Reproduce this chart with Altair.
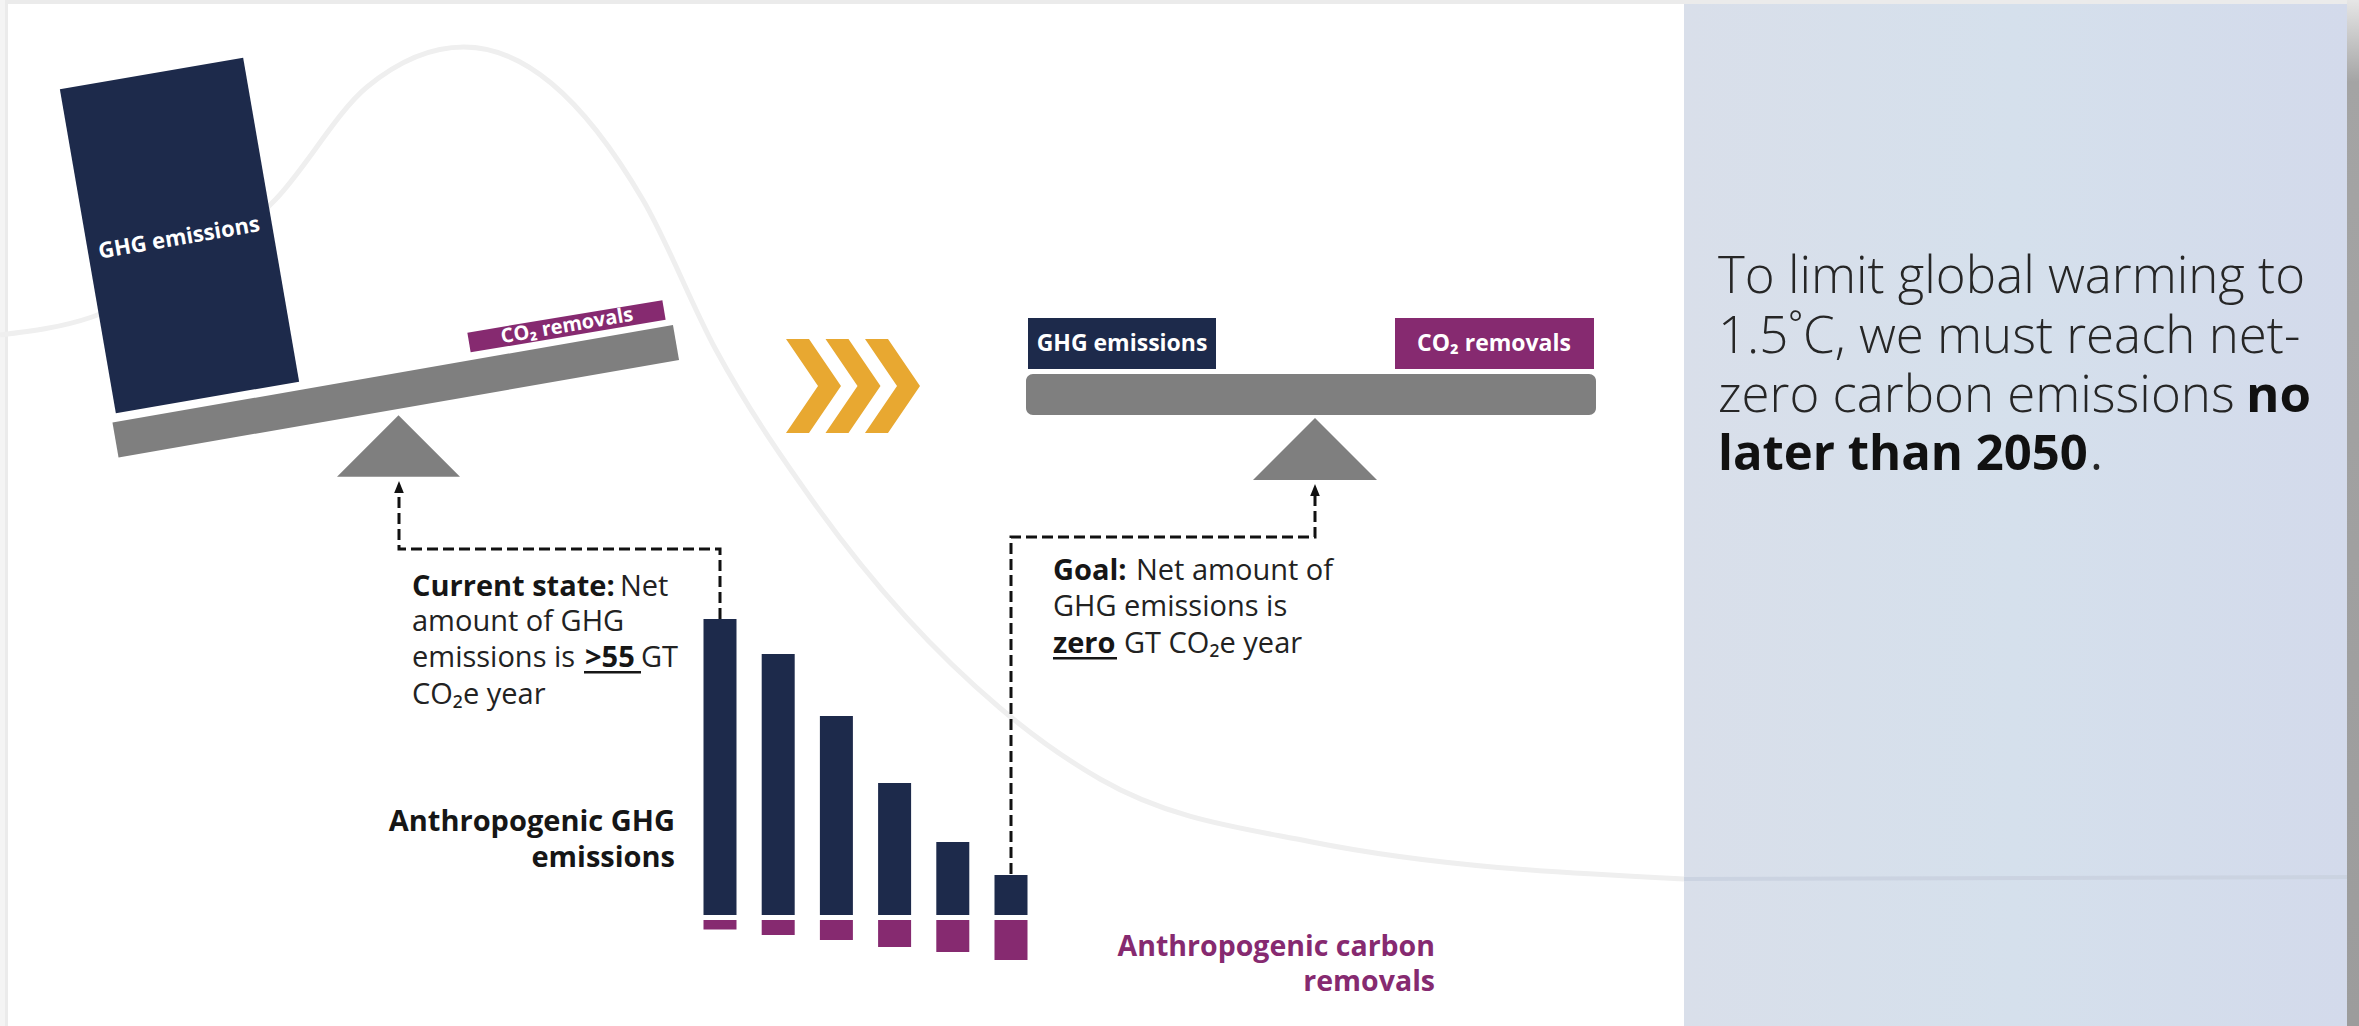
import altair as alt
import pandas as pd

W, H = 2359, 1026
FONT = "Open Sans"

NAVY = "#1D2A4B"
PURPLE = "#862A70"
GRAY = "#7F7F7F"
GOLD = "#E8A831"
INK = "#161616"

# Pathway toward net zero, Gt CO2e per year
steps = ["Today", "Step 2", "Step 3", "Step 4", "Step 5", "Net zero"]
emissions = [59.2, 52.2, 39.8, 26.4, 14.6, 8.0]
removals = [1.9, 3.0, 4.0, 5.4, 6.4, 8.0]

# Faint background trend curve (peak then decline)
curve_x = [0, 92, 275, 367, 464, 551, 643, 716, 812, 1000, 1100, 1312, 1684]
curve_y = [335, 317, 200, 87, 47, 83, 200, 350, 500, 708, 779, 842, 879]

# Text content
label_ghg = "GHG emissions"
label_co2 = "CO\u2082 removals"
current_lines = ["Current state:", "Net", "amount of GHG", "emissions is", ">55", "GT", "CO\u2082e year"]
goal_lines = ["Goal:", "Net amount of", "GHG emissions is", "zero", "GT CO\u2082e year"]
emis_title = ["Anthropogenic GHG", "emissions"]
rem_title = ["Anthropogenic carbon", "removals"]
panel_lines = ["To limit global warming to", "1.5\u02daC, we must reach net-", "zero carbon emissions", "no", "later than 2050", "."]

XS = alt.Scale(domain=[0, W], range=[0, W], nice=False, zero=False)
YS = alt.Scale(domain=[0, H], range=[0, H], nice=False, zero=False)


def X(f="x"):
    return alt.X(f"{f}:Q", scale=XS, axis=None)


def Y(f="y"):
    return alt.Y(f"{f}:Q", scale=YS, axis=None)


def rect(x0, x1, y0, y1, color, **kw):
    df = pd.DataFrame({"x": [x0], "x2": [x1], "y": [y0], "y2": [y1]})
    return alt.Chart(df).mark_rect(color=color, **kw).encode(
        x=X(), x2="x2:Q", y=Y(), y2="y2:Q")


def stroke(xs, ys, color, width, **kw):
    df = pd.DataFrame({"x": xs, "y": ys, "i": list(range(len(xs)))})
    return alt.Chart(df).mark_line(color=color, strokeWidth=width, **kw).encode(
        x=X(), y=Y(), order="i:Q")


def symbol(xs, ys, shape, size, color):
    df = pd.DataFrame({"x": xs, "y": ys})
    return alt.Chart(df).mark_point(shape=shape, size=size, filled=True, color=color,
                                    opacity=1, strokeWidth=0).encode(x=X(), y=Y())


def text(rows, **kw):
    df = pd.DataFrame(rows, columns=["x", "y", "t"])
    opts = dict(font=FONT, baseline="alphabetic", align="left")
    opts.update(kw)
    return alt.Chart(df).mark_text(**opts).encode(x=X(), y=Y(), text="t:N")


TILT = 350.2  # degrees, the unbalanced scale rises to the right

layers = []

# page frame and side panel
layers.append(rect(0, W, 0, H, "#FFFFFF"))
layers.append(rect(0, W, 0, 4, "#EBEBEB"))
layers.append(rect(0, 5, 0, H, "#F4F4F4"))
layers.append(rect(5, 8, 0, H, "#EBEBEB"))
panel_fill = alt.Gradient(gradient="linear", x1=0, x2=1, y1=0, y2=0, stops=[
    alt.GradientStop(offset=0, color="#D9DFEA"),
    alt.GradientStop(offset=0.5, color="#D5E0EC"),
    alt.GradientStop(offset=1, color="#D3DAEB")])
layers.append(rect(1684, 2347, 4, H, panel_fill))
shadow_fill = alt.Gradient(gradient="linear", x1=0, x2=0, y1=0, y2=1, stops=[
    alt.GradientStop(offset=0, color="#E6E6E6"),
    alt.GradientStop(offset=0.08, color="#A4A4A4"),
    alt.GradientStop(offset=1, color="#9C9C9C")])
layers.append(rect(2347, W, 0, H, shadow_fill))

# background curve
layers.append(stroke(curve_x, curve_y, "#EFEFEF", 5, interpolate="monotone"))
layers.append(stroke([1684, 2347], [879, 877], "#CBD3E1", 4))

# unbalanced scale: heavy emissions block, light removals block
layers.append(stroke([151.5, 207.5], [73.5, 397.5], NAVY, 186, strokeCap="butt"))
layers.append(stroke([115.5, 676], [440, 342.5], GRAY, 35.5, strokeCap="butt"))
layers.append(stroke([469, 664], [342.5, 310], PURPLE, 20, strokeCap="butt"))
layers.append(text([(179, 238, label_ghg)], angle=TILT, align="center", baseline="middle",
                   fontSize=22, fontWeight="bold", color="#FFFFFF"))
layers.append(text([(567, 326, label_co2)], angle=TILT, align="center", baseline="middle",
                   fontSize=20, fontWeight="bold", color="#FFFFFF"))

# fulcrums
tri = "M0,-0.5L1,0.5L-1,0.5Z"
layers.append(symbol([398.5], [446], tri, 123 ** 2, GRAY))
layers.append(symbol([1315], [449], tri, 124 ** 2, GRAY))

# transition chevrons
chev = "M-0.585,-1L-0.096,-1L0.585,0L-0.096,1L-0.585,1L0.096,0Z"
layers.append(symbol([813.5, 853, 892.5], [386, 386, 386], chev, 94 ** 2, GOLD))

# balanced scale
layers.append(rect(1026, 1596, 374, 415, GRAY, cornerRadius=7))
layers.append(rect(1028, 1216, 318, 369, NAVY))
layers.append(rect(1395, 1594, 318, 369, PURPLE))
layers.append(text([(1122, 344, label_ghg), (1494, 344, label_co2)], align="center",
                   baseline="middle", fontSize=23, fontWeight="bold", color="#FFFFFF"))

# dashed connectors with arrowheads
dash = dict(strokeDash=[11, 5], strokeCap="butt")
layers.append(stroke([720, 720, 399, 399], [619, 549, 549, 492], "#111111", 3, **dash))
layers.append(stroke([1011, 1011, 1315, 1315], [874, 537, 537, 494], "#111111", 3, **dash))
arrow = "M0,-1L0.8,1L-0.8,1Z"
layers.append(symbol([399, 1315], [487, 490], arrow, 144, "#111111"))

# emissions and removals bars
bars = pd.DataFrame({"step": steps, "emissions": emissions, "removals": removals})
XB = alt.Scale(domain=steps, range=[703.5, 1027.5], paddingInner=0.433, paddingOuter=0)
layers.append(alt.Chart(bars).mark_bar(color=NAVY).encode(
    x=alt.X("step:N", scale=XB, sort=steps, axis=None),
    y=alt.Y("emissions:Q", scale=alt.Scale(domain=[0, 60], range=[915, 615], nice=False), axis=None)))
layers.append(alt.Chart(bars).mark_bar(color=PURPLE).encode(
    x=alt.X("step:N", scale=XB, sort=steps, axis=None),
    y=alt.Y("removals:Q", scale=alt.Scale(domain=[0, 60], range=[920, 1220], nice=False), axis=None)))

# annotations
FS = 29
c = current_lines
layers.append(text([(412, 596, c[0]), (585, 667, c[4])], fontSize=FS, fontWeight="bold", color=INK))
layers.append(text([(620, 596, c[1]), (412, 631, c[2]), (412, 667, c[3]), (641, 667, c[5]),
                    (412, 704, c[6])], fontSize=FS, color="#222222"))
layers.append(rect(584, 641, 671, 673.5, INK))

g = goal_lines
layers.append(text([(1053, 580, g[0]), (1053, 653, g[3])], fontSize=FS, fontWeight="bold", color=INK))
layers.append(text([(1136, 580, g[1]), (1053, 616, g[2]), (1124, 653, g[4])], fontSize=FS,
                   color="#222222"))
layers.append(rect(1053, 1117, 657, 659.5, INK))

layers.append(text([(675, 831, emis_title[0]), (675, 867, emis_title[1])], align="right",
                   fontSize=FS, fontWeight="bold", color=INK))
layers.append(text([(1435, 956, rem_title[0]), (1435, 991, rem_title[1])], align="right",
                   fontSize=28.5, fontWeight="bold", color=PURPLE))

# side panel message
p = panel_lines
layers.append(text([(1718, 293, p[0]), (1718, 353, p[1]), (1718, 412, p[2])],
                   fontSize=51, fontWeight=300, color="#262626"))
layers.append(text([(2090, 470, p[5])], fontSize=49, color="#262626"))
layers.append(text([(2246, 412, p[3])], fontSize=51, fontWeight="bold", color="#111111"))
layers.append(text([(1718, 470, p[4])], fontSize=49, fontWeight="bold", color="#111111"))

chart = alt.layer(*layers).resolve_scale(x="independent", y="independent").properties(
    width=W, height=H, padding=0, autosize=alt.AutoSizeParams(type="none"),
    background="#FFFFFF",
).configure_view(stroke=None)

chart.save("out.html", embed_options={"renderer": "svg", "actions": False})
